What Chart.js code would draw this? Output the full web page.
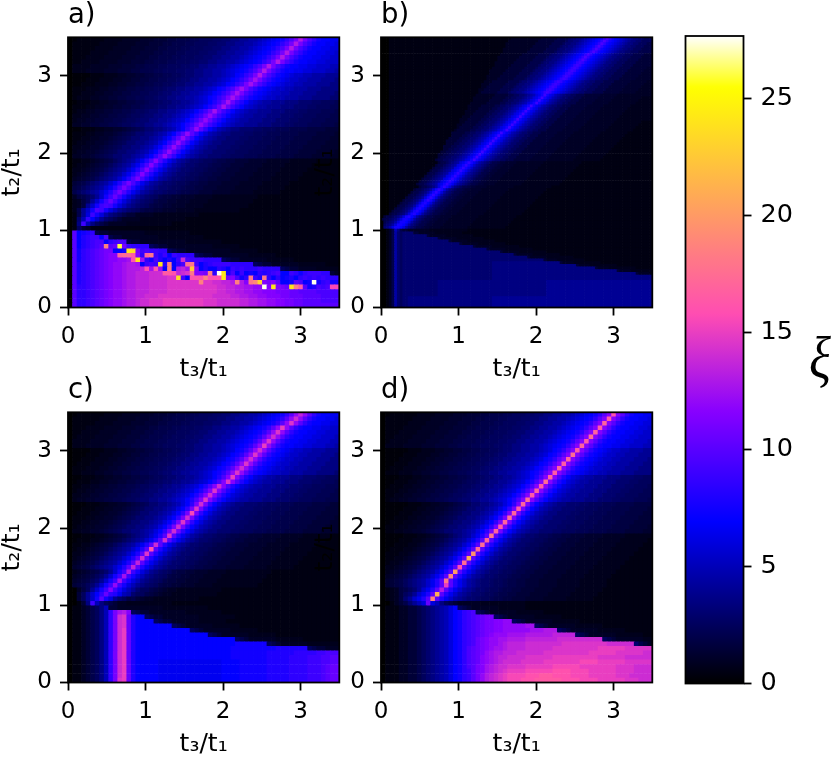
<!DOCTYPE html>
<html><head><meta charset="utf-8">
<style>html,body{margin:0;padding:0;background:#fff;width:831px;height:757px;overflow:hidden}canvas{position:absolute}</style>
<script src="https://cdn.jsdelivr.net/npm/chart.js@4"></script>
</head><body>
<canvas id="a" width="350" height="382" style="left:0;top:0"></canvas>
<canvas id="b" width="350" height="382" style="left:313px;top:0"></canvas>
<canvas id="c" width="350" height="382" style="left:0;top:375px"></canvas>
<canvas id="d" width="350" height="382" style="left:313px;top:375px"></canvas>
<canvas id="bar" width="171" height="757" style="left:660px;top:0"></canvas>
<script>
// Cell values, one string per row, top row first.
// Each character is a level of xi; "x{n}" repeats it n times. "P|left|rest" puts "rest" from column P on
// and right-aligns "left" before it.
const LEVELS="0123456789abcdefghijklmnopqrstuvwxyzABCDEFGHIJKLMNOPQRST";
const FINE_LEVELS={U:0.25,V:0.75,W:1.25,X:1.75,Y:2.25,Z:2.75};
const panelA=[
"51|U{20}1{6}V{4}2{4}W{3}3{3}X{2}4{3}Y{2}5{3}Z{2}66778899abcdefhjm|qmjhfeeddccbbbaa9988",
"50|U{20}1{6}V{4}2{4}W{3}3{3}X{2}4{3}Y{2}5{3}Z{2}66778899abcdefhjm|qmjhfeeddccbbbaa9988",
"49|U{20}1{6}V{4}2{4}W{3}3{3}X{2}4{3}Y{2}5{3}Z{2}66778899abcdefhjm|qmjhfeeddccbbbaa9988",
"48|U{20}1{6}V{4}2{4}W{3}3{3}X{2}4{3}Y{2}5{3}Z{2}66778899abcdefhjm|qmjhfeeddccbbbaa9988",
"47|U{20}1{6}V{4}2{4}W{3}3{3}X{2}4{3}Y{2}5{3}Z{2}66778899abcdefhjm|qmjhfeeddccbbbaa9988",
"46|U{20}1{6}V{4}2{4}W{3}3{3}X{2}4{3}Y{2}5{3}Z{2}66778899abcdefhjm|qmjhfeeddccbbbaa9988",
"44|U{20}1{6}V{4}2{4}W{3}3{3}X{2}4{3}Y{2}5{3}Z{2}66778899abcdefhjm|qmjhfeeddccbbbaa9988",
"43|U{20}1{6}V{4}2{4}W{3}3{3}X{2}4{3}Y{2}5{3}Z{2}66778899abcdefhjm|qmjhfeeddccbbbaa9988",
"42|U{20}1{3}V{3}22WW33XX44YY55Z66778899abcefhjm|qmjhfedcbbaa9998887777666Z",
"41|U{20}1{3}V{3}22WW33XX44YY55Z66778899abcefhjm|pmjhfedcbbaa9998887777666Z",
"40|U{20}1{3}V{3}22WW33XX44YY55Z66778899abcefhjm|pmjhfedcbbaa9998887777666Z",
"38|U{20}1{3}V{3}22WW33XX44YY55Z66778899abcefhjm|pmjhfedcbbaa9998887777666Z",
"37|U{20}1{3}V{3}22WW33XX44YY55Z66778899abcefhjm|pmjhfedcbbaa9998887777666Z",
"36|U{20}1{3}V{3}22WW33XX44YY55Z66778899abcefhjm|pmjhfedcbbaa9998887777666Z",
"35|U{20}111VV22WW33XX44Y55Z6677889abcegil|pligecba99888777666ZZ555YYY444XX",
"34|U{20}111VV22WW33XX44Y55Z6677889abcegil|pligecba99888777666ZZ555YYY444XX",
"32|U{20}111VV22WW33XX44Y55Z6677889abcegil|pligecba99888777666ZZ555YYY444XX",
"31|U{20}111VV22WW33XX44Y55Z6677889abcegil|oligecba99888777666ZZ555YYY444XX",
"30|U{20}111VV22WW33XX44Y55Z6677889abcegil|oligecba99888777666ZZ555YYY444XX",
"29|U{20}111VV22WW33XX44Y55Z6677889abcegil|oligecba99888777666ZZ555YYY444XX",
"28|U{20}111VV22WW3X4Y5667789acehk|okheca9877666ZZ555YYY4444XXXX3333WWWW2{6}",
"26|U{20}111VV22WW3X4Y5667789acehk|okheca9877666ZZ555YYY4444XXXX3333WWWW2{6}",
"25|U{20}111VV22WW3X4Y5667789acehk|okheca9877666ZZ555YYY4444XXXX3333WWWW2{6}",
"24|U{20}111VV22WW3X4Y5667789acehk|okheca9877666ZZ555YYY4444XXXX3333WWWW2{6}",
"23|U{20}111VV22WW3X4Y5667789acehk|okheca9877666ZZ555YYY4444XXXX3333WWWW2{6}",
"22|U{20}111VV22WW3X4Y5667789acehk|okheca9877666ZZ555YYY4444XXXX3333WWWW2{6}",
"21|U{20}111VV22WW3X4Y5667789acehk|okheca9877666ZZ555YYY4444XXXX3333WWWW2{6}",
"19|U{10}1{3}VV2W3X456789bdgj|njgdb98766Z55Y44XX333WWWW22222V{6}1{20}",
"18|U{10}1{3}VV2W3X456789bdgj|njgdb98766Z55Y44XX333WWWW22222V{6}1{20}",
"17|U{10}1{3}VV2W3X456789bdgj|njgdb98766Z55Y44XX333WWWW22222V{6}1{20}",
"16|U{10}1{3}VV2W3X456789bdgj|njgdb98766Z55Y44XX333WWWW22222V{6}1{20}",
"15|U{10}1{3}VV2W3X456789bdgj|mjgdb98766Z55Y44XX333WWWW22222V{6}1{20}",
"13|U{10}1{3}VV2W3X456789bdgj|mjgdb98766Z55Y44XX333WWWW22222V{6}1{25}",
"12|U{10}1{3}VV2W3X456789bdgj|mjgdb98766Z55Y44XX333WWWW22222V{6}1{25}",
"11|U{10}1{3}VV2W3X456789bdgj|mjgdb98766Z55Y44XX333WWWW22222V{6}1{25}",
"10|V2X4568bfi|lifca876Z54XX33WWW2222V{10}1{30}",
"9|1V2X58bfi|lifca876Z54XX33WWW2222V{10}1{30}",
"8|1V2X8bfi|jifca876Z54XX33WWW2222V{10}1{30}",
"6|1V48bf|jifca876Z54XX33WWW2222V{10}1{30}",
"5|148c|ifc97654332{4}V{10}1{40}",
"4|16a|heb865432{4}V{10}1{40}",
"3|17|ia75432{4}V{10}1{40}",
"2|1|5321{60}",
"0kefgh4332{8}V{10}1{30}",
"0keghiiej4332{8}V{10}1{30}",
"0keghijjehijj4332{10}V{8}1{25}",
"0keghijkBklQmihhhh54332{10}V{6}1{20}",
"0kfhijklmmeefMLmijiihh54332{10}V{6}1{20}",
"0kfhijklmnnyzzxnhyAigieihhhh54332{8}V{6}1{15}",
"0kfhijklmnnoopwMphfjgegeisjiiihhhh54332{6}V{6}1{10}",
"0kghijklmnoopqqpeijiMhBehjzAieghiiiihhhhh54332{6}V{6}1{5}",
"0kghijklmnoopqqqrwpwpeBeqrpJnegeehgeihihhhihhhh54332{4}V{6}",
"0kghijklmnoopqqrrrsssxxwrstAnnmBhTMfjeiefehghijeeihfhiiihh32",
"0kghijklmnoopqqrrrssssttLjewwwBwwwMmnjfhAigAhehefgehihihihh",
"0kghijklmnoopqqrrrsssstttttttBttssrrqBqnACKnmnkeefkjefTfhif",
"0khhijklmnoopqqrrrsssstttttttttttssrrqqppooTnMnmlMBxkfgjijv",
"0khhijklmnoopqqrrrsssstttttttttttssrrqqppoonnnmmmllkkkkjjjj",
"0khhijklmnoopqqrrsssttttttttttttssssrrqqppoonnnmmlllkkkkjjjj",
"0khhijklmnoopqqrsstttuuuuuuuuutttsssssrrqqppoonnmmllkkkkjjjj",
"0khhijklmnoopqqrsstttuuuuuuuuutttsssssrrqqppoonnmmllkkkkkkkk"
];
const panelB=[
"0{3}1{45}2{11}3{6}4{4}5667789abcdefhjhfedcba98776655",
"0{3}1{44}2{11}3{6}4{4}5667789abcdefhjhfedcba987766555",
"0{3}1{43}2{11}3{6}4{4}5667789abcdefhjhfedcba9877665554",
"0{3}1{43}2{10}3{6}4{4}5667789abcdefhjhfedcba98776655544",
"0{3}1{42}2{10}3{6}4{4}5667789abcdefhjhfedcba987766555444",
"0{3}1{42}2{9}3{6}4{4}5667789abcdefhjhfedcba9877665554444",
"0{3}1{41}2{8}3{6}4{4}5667789abcdefhjhfedcba98776655544443",
"0{3}1{40}2{8}3{6}4{4}5667789abcdefhjhfedcba987766555444433",
"0{3}1{40}2{7}3{6}4{4}5667789abcdefhjhfedcba98776655544443{3}",
"0{3}1{39}2{7}3{6}4{4}5667789abcdefhihfedcba98776655544443{4}",
"0{3}1{39}2{6}3{6}4{4}5667789abcdefhihfedcba98776655544443{5}",
"0{3}1{38}2{6}3{6}4{4}5667789abcdefhihfedcba98776655544443{6}W",
"0{3}1{37}2{6}3{6}4{4}5667789abcdefhihfedcba98776655544443{6}W{2}",
"0{3}1{37}2{5}3{6}4{4}5667789abcdefhihfedcba98776655544443{6}W{3}",
"0{3}1{36}2{5}3{6}4{4}5667789abcdefhihfedcba98776655544443{6}W{4}",
"0{3}1{36}2{4}3{6}4{4}5667789abcdefhihfedcba98776655544443{6}W{5}",
"0{3}1{35}2{3}3{6}4{4}5667789abcdefhihfedcba98776655544443{6}W{6}2",
"0{3}1{34}2{3}3{6}4{4}5667789abcdefhihfedcba98776655544443{6}W{6}2{2}",
"0{3}1{34}2{2}3{6}4{4}5667789abcdefhihfedcba98776655544443{6}W{6}2{3}",
"0{3}1{33}2{2}3{6}4{4}5667789abcdefhihfedcba98776655544443{6}W{6}2{4}",
"0{3}1{33}23{6}4{4}5667789abcdefhihfedcba98776655544443{6}W{6}2{5}",
"0{3}1{32}2{7}3{5}445566789acdfifdca98766554443{6}W{6}2{10}",
"0{3}1{31}2{7}3{5}445566789acdfifdca98766554443{6}W{6}2{10}V",
"0{3}1{31}2{6}3{5}445566789acdfifdca98766554443{6}W{6}2{10}V{2}",
"0{3}1{30}2{6}3{5}445566789acdfifdca98766554443{6}W{6}2{10}V{3}",
"0{3}1{29}2{5}3{5}445566789acdfifdca98766554443{6}W{6}2{10}V{5}",
"0{3}1{29}2{4}3{5}445566789acdfifdca98766554443{6}W{6}2{10}V{6}",
"0{3}1{28}2{4}3{5}445566789acdfifdca98766554443{6}W{6}2{10}V{7}",
"0{3}1{28}2{3}3{5}445566789acdfifdca98766554443{6}W{6}2{10}V{8}",
"0{3}1{27}2{3}3{5}445566789acdfifdca98766554443{6}W{6}2{10}V{9}",
"0{3}1{26}2{3}3{5}445566789acdfifdca98766554443{6}W{6}2{10}V{10}",
"0{3}1{26}2{2}3{5}445566789acdfifdca98766554443{6}W{6}2{10}V{10}1",
"0{3}1{25}2{2}3{5}445566789acdfifdca98766554443{6}W{6}2{10}V{10}1{2}",
"0{3}1{25}23{5}445566789acdfifdca98766554443{6}W{6}2{10}V{10}1{3}",
"0{3}1{24}23{5}445566789acdfifdca98766554443{6}W{6}2{10}V{10}1{4}",
"0{3}1{23}3{5}445566789acdfifdca98766554443{6}W{6}2{10}V{10}1{6}",
"0{3}1{23}3{4}445566789acdfifdca98766554443{6}W{6}2{10}V{10}1{7}",
"0{3}1{22}3{4}445566789acdfifdca98766554443{6}W{6}2{10}V{10}1{8}",
"0{3}1{21}3{4}445566789acdfifdca98766554443{6}W{6}2{10}V{10}1{9}",
"0{3}1{21}3{3}445566789acdfifdca98766554443{6}W{6}2{10}V{10}1{10}",
"0{3}1{20}3{3}445566789acdfifdca98766554443{6}W{6}2{10}V{10}1{11}",
"0{3}1{20}3{2}445566789acdfifdca98766554443{6}W{6}2{10}V{10}1{12}",
"0{3}1{19}3{2}445566789acdfifdca98766554443{6}W{6}2{10}V{10}1{13}",
"0{3}1{18}3{2}445566789acdfifdca98766554443{6}W{6}2{10}V{10}1{14}",
"0{3}1{18}3445566789acdfifdca98766554443{6}W{6}2{10}V{10}1{15}",
"0{3}1{17}3445566789acdfifdca98766554443{6}W{6}2{10}V{10}1{16}",
"0{3}1{18}34456789cdfhfdb9876544X33W{4}2{10}V{14}1{20}",
"0{3}1{17}34456789cdfhfdb9876544X33W{4}2{10}V{14}1{21}",
"0{3}1{16}34456789cdfhfdb9876544X33W{4}2{10}V{14}1{22}",
"0{3}1{15}34456789cdfhfdb9876544X33W{4}2{10}V{14}1{23}",
"0{3}1{14}34456789cdfhfdb9876544X33W{4}2{10}V{14}1{24}",
"0{3}1{13}34456789cdfhfdb9876544X33W{4}2{10}V{14}1{25}",
"0{3}1{12}34456789cdfhfdb9876544X33W{4}2{10}V{14}1{26}",
"0{3}1{11}34456789cdfhfdb9876544X33W{4}2{10}V{14}1{27}",
"0{3}1{10}34456789cdfhfdb9876544X33W{4}2{10}V{14}1{28}",
"0{3}1{11}344567 9cfhfc976544X33W{4}2{10}V{14}1{29}",
"0{3}1{9}344567 9cfhfc976544X33W{4}2{10}V{14}1{31}",
"0{3}1{8}344567 9cfhfc976544X33W{4}2{10}V{14}1{32}",
"0{3}1{7}344567 9cfhfc976544X33W{4}2{10}V{14}1{33}",
"0{3}1{6}344567 9cfhfc976544X33W{4}2{10}V{14}1{34}",
"0{3}1{5}344567 9cfhfc976544X33W{4}2{10}V{14}1{35}",
"0{3}1{4}344567 9cfgec976544X33W{4}2{10}V{14}1{36}",
"0{3}1{3}344567 9cfgec976544X33W{4}2{10}V{14}1{37}",
"0{3}1{2}344567 9cfgec976544X33W{4}2{10}V{14}1{38}",
"0{3}1344567 9cfgec976544X33W{4}2{10}V{14}1{39}",
"0{3}344567 9cfgec976544X33W{4}2{10}V{14}1{40}",
"0344567 9cfgec976544X33W{4}2{10}V{14}1{42}",
"344567 9cffec976544X33W{4}2{10}V{14}1{43}",
"04567 9cffec976544X33W{4}2{10}V{14}1{44}",
"0567 9cffec976544X33W{4}2{10}V{14}1{45}",
"067 9cffec976544X33W{4}2{10}V{14}1{46}",
"00124a74332{8}V{14}1{60}",
"001249656666332{6}V{10}1{70}",
"00124965666{7}32{6}V{10}1{65}",
"00124965666{11}32{6}V{10}1{60}",
"00124965666{15}32{6}V{10}1{55}",
"00124965666{19}32{6}V{10}1{50}",
"00124965666{24}32{6}V{10}1{45}",
"00124965666{29}32{6}V{10}1{40}",
"00124965666{34}32{6}V{10}1{35}",
"00124965666{39}32{6}V{10}1{30}",
"00124965666{44}32{6}V{10}1{25}",
"00124965666{50}32{4}V{10}1{20}",
"00124965666{31}7{25}32{4}V{10}1{15}",
"00124965666{31}7{31}32{4}V{10}1{10}",
"00124965666{31}7{38}32{4}V{10}1{5}",
"00124965666{31}7{46}32{4}V{10}",
"00124965666{31}7{53}32{4}V{4}",
"00124965666{31}7{60}",
"00124965666{31}7{60}",
"00124965666{11}7{40}8{50}",
"00124965666{11}7{40}8{50}",
"00124965666{11}7{40}8{50}",
"00124965666{11}7{40}8{50}",
"00124965666{11}7{40}8{50}",
"00124965666{11}7{40}8{50}",
"00124965667{31}8{60}",
"00124965667{31}8{60}",
"00124965667{31}8{60}",
"00124965667{31}8{60}"
];
const panelC=[
"51|U{20}1{6}V{4}2{4}W{3}3{3}X{2}4{3}Y{2}5{3}Z{2}66778899abcdefhko|rokhfeeddccbbbaa9988",
"50|U{20}1{6}V{4}2{4}W{3}3{3}X{2}4{3}Y{2}5{3}Z{2}66778899abcdefhko|sokhfeeddccbbbaa9988",
"49|U{20}1{6}V{4}2{4}W{3}3{3}X{2}4{3}Y{2}5{3}Z{2}66778899abcdefhko|tokhfeeddccbbbaa9988",
"47|U{20}1{6}V{4}2{4}W{3}3{3}X{2}4{3}Y{2}5{3}Z{2}66778899abcdefhko|uokhfeeddccbbbaa9988",
"46|U{20}1{6}V{4}2{4}W{3}3{3}X{2}4{3}Y{2}5{3}Z{2}66778899abcdefhko|tokhfeeddccbbbaa9988",
"45|U{20}1{6}V{4}2{4}W{3}3{3}X{2}4{3}Y{2}5{3}Z{2}66778899abcdefhko|sokhfeeddccbbbaa9988",
"44|U{20}1{6}V{4}2{4}W{3}3{3}X{2}4{3}Y{2}5{3}Z{2}66778899abcdefhko|tokhfeeddccbbbaa9988",
"43|U{20}1{6}V{4}2{4}W{3}3{3}X{2}4{3}Y{2}5{3}Z{2}66778899abcdefhko|uokhfeeddccbbbaa9988",
"42|U{20}1{3}V{3}22WW33XX44YY55Z66778899abcefhko|sokhfedcbbaa9998887777666Z",
"41|U{20}1{3}V{3}22WW33XX44YY55Z66778899abcefhko|tokhfedcbbaa9998887777666Z",
"40|U{20}1{3}V{3}22WW33XX44YY55Z66778899abcefhko|sokhfedcbbaa9998887777666Z",
"39|U{20}1{3}V{3}22WW33XX44YY55Z66778899abcefhko|tokhfedcbbaa9998887777666Z",
"38|U{20}1{3}V{3}22WW33XX44YY55Z66778899abcefhko|sokhfedcbbaa9998887777666Z",
"37|U{20}1{3}V{3}22WW33XX44YY55Z66778899abcefhko|tokhfedcbbaa9998887777666Z",
"36|U{20}111VV22WW33XX44Y55Z6677889abcegjn|unjgecba99888777666ZZ555YYY444XX",
"35|U{20}111VV22WW33XX44Y55Z6677889abcegjn|tnjgecba99888777666ZZ555YYY444XX",
"33|U{20}111VV22WW33XX44Y55Z6677889abcegjn|snjgecba99888777666ZZ555YYY444XX",
"32|U{20}111VV22WW33XX44Y55Z6677889abcegjn|tnjgecba99888777666ZZ555YYY444XX",
"31|U{20}111VV22WW33XX44Y55Z6677889abcegjn|snjgecba99888777666ZZ555YYY444XX",
"30|U{20}111VV22WW33XX44Y55Z6677889abcegjn|tnjgecba99888777666ZZ555YYY444XX",
"29|U{20}111VV22WW3X4Y5667789acehm|smheca9877666ZZ555YYY4444XXXX3333WWWW2{6}",
"28|U{20}111VV22WW3X4Y5667789acehm|tmheca9877666ZZ555YYY4444XXXX3333WWWW2{6}",
"27|U{20}111VV22WW3X4Y5667789acehm|vmheca9877666ZZ555YYY4444XXXX3333WWWW2{6}",
"26|U{20}111VV22WW3X4Y5667789acehm|smheca9877666ZZ555YYY4444XXXX3333WWWW2{6}",
"25|U{20}111VV22WW3X4Y5667789acehm|tmheca9877666ZZ555YYY4444XXXX3333WWWW2{6}",
"24|U{20}111VV22WW3X4Y5667789acehm|smheca9877666ZZ555YYY4444XXXX3333WWWW2{6}",
"23|U{20}111VV22WW3X4Y5667789acehm|smheca9877666ZZ555YYY4444XXXX3333WWWW2{6}",
"22|U{10}1{3}VV2W3X456789bdgk|tkgdb98766Z55Y44XX333WWWW22222V{6}1{20}",
"21|U{10}1{3}VV2W3X456789bdgk|skgdb98766Z55Y44XX333WWWW22222V{6}1{20}",
"19|U{10}1{3}VV2W3X456789bdgk|skgdb98766Z55Y44XX333WWWW22222V{6}1{20}",
"18|U{10}1{3}VV2W3X456789bdgk|wkgdb98766Z55Y44XX333WWWW22222V{6}1{20}",
"17|U{10}1{3}VV2W3X456789bdgk|tkgdb98766Z55Y44XX333WWWW22222V{6}1{20}",
"16|U{10}1{3}VV2W3X456789bdgk|skgdb98766Z55Y44XX333WWWW22222V{6}1{20}",
"15|U{10}1{3}VV2W3X456789bdgk|rkgdb98766Z55Y44XX333WWWW22222V{6}1{20}",
"14|U{10}1{3}VV2W3X456789bdgk|rkgdb98766Z55Y44XX333WWWW22222V{6}1{20}",
"13|U1VV2W3X4568bfi|qifca876Z54XX33WWW2222V{10}1{25}",
"12|U1VV2W3X4568bfi|pifca876Z54XX33WWW2222V{10}1{25}",
"11|U1VV2W3X4568bfi|pifca876Z54XX33WWW2222V{10}1{25}",
"10|U1VV2W3X4568bfi|oifca876Z54XX33WWW2222V{10}1{25}",
"9|2X58bfi|nifca86554X3W22V{10}1{30}",
"8|358beh|lhgda96554X3W22V{10}1{30}",
"7|358bf|kfc865X43W22V{10}1{35}",
"5|137|ia754322V{10}1{40}",
"01123457a3322 2{8}V{10}1{30}",
"01123457ahmpqn54332{8}V{8}1{30}",
"01123457ahmstlgee54332{8}V{8}1{25}",
"01123457ahmstlgeeee54332{6}V{6}1{25}",
"01123457ahmstlgee{7}5432{6}V{6}1{20}",
"01123457ahmsulgee{11}5432{6}V{6}1{15}",
"01123457ahmsulgee{15}5432{6}V{6}1{10}",
"01123457ahmsulgee{21}5432{6}V{6}1{5}",
"01123457ahmsulgee{21}f{7}5432{6}V{4}",
"01123457ahmsulgee{20}f{10}g{7}543322",
"01123457ahmsulgee{20}f{8}g{6}h{5}i{2}j{2}",
"01123457ahmsulgee{20}f{8}g{5}h{4}i{3}j{2}k",
"01123457ahmsulgee{4}d{14}e{4}f{6}g{5}h{4}i{3}j{2}k",
"01123457ahmsulgee{4}d{14}e{4}f{6}g{5}h{4}i{3}jkl",
"01123457ahmsulgee{4}d{14}e{4}f{6}g{5}h{4}i{3}jkl",
"01123457ahmsulgee{4}d{14}e{4}f{6}g{5}h{4}i{3}jkl",
"01123457ahmtulgee{4}d{14}e{4}f{6}g{5}h{4}i{3}jkl"
];
const panelD=[
"51|U{20}1{6}V{4}2{4}W{3}3{3}X{2}4{3}Y{2}5{3}Z{2}66778899abcdefhkn|wnkhfeeddccbbbaa9988",
"50|U{20}1{6}V{4}2{4}W{3}3{3}X{2}4{3}Y{2}5{3}Z{2}66778899abcdefhkn|xnkhfeeddccbbbaa9988",
"49|U{20}1{6}V{4}2{4}W{3}3{3}X{2}4{3}Y{2}5{3}Z{2}66778899abcdefhkn|ynkhfeeddccbbbaa9988",
"48|U{20}1{6}V{4}2{4}W{3}3{3}X{2}4{3}Y{2}5{3}Z{2}66778899abcdefhkn|xnkhfeeddccbbbaa9988",
"47|U{20}1{6}V{4}2{4}W{3}3{3}X{2}4{3}Y{2}5{3}Z{2}66778899abcdefhkn|ynkhfeeddccbbbaa9988",
"46|U{20}1{6}V{4}2{4}W{3}3{3}X{2}4{3}Y{2}5{3}Z{2}66778899abcdefhkn|znkhfeeddccbbbaa9988",
"45|U{20}1{6}V{4}2{4}W{3}3{3}X{2}4{3}Y{2}5{3}Z{2}66778899abcdefhkn|xnkhfeeddccbbbaa9988",
"44|U{20}1{6}V{4}2{4}W{3}3{3}X{2}4{3}Y{2}5{3}Z{2}66778899abcdefhkn|ynkhfeeddccbbbaa9988",
"43|U{20}1{3}V{3}22WW33XX44YY55Z66778899abcefhkn|xnkhfedcbbaa9998887777666Z",
"42|U{20}1{3}V{3}22WW33XX44YY55Z66778899abcefhkn|znkhfedcbbaa9998887777666Z",
"41|U{20}1{3}V{3}22WW33XX44YY55Z66778899abcefhkn|ynkhfedcbbaa9998887777666Z",
"40|U{20}1{3}V{3}22WW33XX44YY55Z66778899abcefhkn|xnkhfedcbbaa9998887777666Z",
"39|U{20}1{3}V{3}22WW33XX44YY55Z66778899abcefhkn|ynkhfedcbbaa9998887777666Z",
"38|U{20}1{3}V{3}22WW33XX44YY55Z66778899abcefhkn|xnkhfedcbbaa9998887777666Z",
"37|U{20}111VV22WW33XX44Y55Z6677889abcegjn|ynjgecba99888777666ZZ555YYY444XX",
"36|U{20}111VV22WW33XX44Y55Z6677889abcegjn|znjgecba99888777666ZZ555YYY444XX",
"35|U{20}111VV22WW33XX44Y55Z6677889abcegjn|xnjgecba99888777666ZZ555YYY444XX",
"34|U{20}111VV22WW33XX44Y55Z6677889abcegjn|ynjgecba99888777666ZZ555YYY444XX",
"33|U{20}111VV22WW33XX44Y55Z6677889abcegjn|xnjgecba99888777666ZZ555YYY444XX",
"32|U{20}111VV22WW33XX44Y55Z6677889abcegjn|znjgecba99888777666ZZ555YYY444XX",
"31|U{20}111VV22WW3X4Y5667789acehm|ymheca9877666ZZ555YYY4444XXXX3333WWWW2{6}",
"30|U{20}111VV22WW3X4Y5667789acehm|xmheca9877666ZZ555YYY4444XXXX3333WWWW2{6}",
"29|U{20}111VV22WW3X4Y5667789acehm|ymheca9877666ZZ555YYY4444XXXX3333WWWW2{6}",
"28|U{20}111VV22WW3X4Y5667789acehm|zmheca9877666ZZ555YYY4444XXXX3333WWWW2{6}",
"27|U{20}111VV22WW3X4Y5667789acehm|ymheca9877666ZZ555YYY4444XXXX3333WWWW2{6}",
"26|U{20}111VV22WW3X4Y5667789acehm|xmheca9877666ZZ555YYY4444XXXX3333WWWW2{6}",
"25|U{20}111VV22WW3X4Y5667789acehm|ymheca9877666ZZ555YYY4444XXXX3333WWWW2{6}",
"24|U{10}1{3}VV2W3X456789bdgk|Akgdb98766Z55Y44XX333WWWW22222V{6}1{20}",
"23|U{10}1{3}VV2W3X456789bdgk|ykgdb98766Z55Y44XX333WWWW22222V{6}1{20}",
"22|U{10}1{3}VV2W3X456789bdgk|zkgdb98766Z55Y44XX333WWWW22222V{6}1{20}",
"21|U{10}1{3}VV2W3X456789bdgk|zkgdb98766Z55Y44XX333WWWW22222V{6}1{20}",
"20|U{10}1{3}VV2W3X456789bdgk|Dkgdb98766Z55Y44XX333WWWW22222V{6}1{20}",
"19|U{10}1{3}VV2W3X456789bdgk|Gkgdb98766Z55Y44XX333WWWW22222V{6}1{20}",
"18|U{10}1{3}VV2W3X456789bdgk|zkgdb98766Z55Y44XX333WWWW22222V{6}1{20}",
"17|U{10}1{3}VV2W3X456789bdgk|wkgdb98766Z55Y44XX333WWWW22222V{6}1{20}",
"16|U1VV2W3X456789bdgk|Ekgdb98766Z55Y44XX333WWWW22222V{6}1{25}",
"15|U1VV2W3X456789bdgk|Ckgdb98766Z55Y44XX333WWWW22222V{6}1{25}",
"14|U1VV2W3X456789bdgk|Akgdb98766Z55Y44XX333WWWW22222V{6}1{25}",
"14|U1VV2W3X456789bdgk|ukgdb98766Z55Y44XX333WWWW22222V{6}1{25}",
"13|1V2X4568bdgk|qkgdb98766Z55Y44XX333WWWW22222V{6}1{25}",
"12|1V2X568bdgk|Gkgdb98766Z55Y44XX333WWWW22222V{6}1{25}",
"11|1V2X68bdgk|Bkgdb98766Z55Y44XX333WWWW22222V{6}1{25}",
"10|123468ac|lca75432{5}V{10}1{35}",
"0111223345 6789ace5432{6}V{6}1{30}",
"0111223345 6789acefhij5432{6}V{6}1{25}",
"0111223345 6789acefhijklmm5432{6}V{6}1{25}",
"0111223345 6789acefhijklmmnnoo5432{6}V{6}1{20}",
"0111223345 6789acefhijklmmnnoo{4}p{2}5432{6}V{6}1{15}",
"0111223345 6789acefhijklmmnnoo{5}p{3}q{3}5432{6}V{6}1{10}",
"0111223345 6789acefhijklmnooop{4}q{6}r{5}5432{6}V{6}1{5}",
"0111223345 6789acefhijlmnooppq{4}r{7}s{10}5432{6}V{4}",
"0111223345 6789acefhijlmnoopqr{4}s{8}t{10}s{6}6432",
"0111223345 6789acefhjklmnoppqr{4}s{6}t{10}u{6}t{6}s{6}",
"0111223345 6789acefhjklmopqqrr{2}s{6}t{10}u{6}t{6}s{2}",
"0111223345 6789acefhjklnopqrrs{4}t{6}u{10}t{6}s{6}",
"0111223345 6789acefhjklnopqrss{3}t{5}u{8}v{4}u{6}t{6}",
"0111223345 6789acefhjkmnpqrsst{4}u{6}v{6}u{8}t{4}s{4}",
"0111223345 6789acefhikmnpqrstu{4}v{6}w{4}v{4}u{6}t{4}s{4}",
"0111223345 6789acefhikmoqrstuv{4}w{3}x{3}w{4}v{4}u{6}t{3}s{5}",
"0111223345 6789acefhikmoqrstuv{3}w{3}x{6}w{4}v{4}u{6}t{3}s{3}"
];
const xTickStep=1, yTickStep=1, axisMax=3.5, barMax=27.66, barTickStep=5;
const xLabel="t\u2083/t\u2081", yLabel="t\u2082/t\u2081", barLabel="\u03BE";

const expand=s=>s.replace(/\s/g,"").replace(/(.)\{(\d+)\}/g,(m,c,n)=>c.repeat(+n));
function expandRow(s,n){
  let row;
  if(s.includes("|")){
    const [p,l,r]=s.split("|"),P=+p;
    row=(expand(l).slice(-P).padStart(P,"0")+expand(r));
    row="0"+row.slice(1);
  }else row=expand(s);
  row=row.slice(0,n);
  return row.padEnd(n,row[row.length-1]);
}
const levelValue=ch=>ch in FINE_LEVELS?FINE_LEVELS[ch]:Math.max(0,LEVELS.indexOf(ch))*0.5;
function gnuplot2(v){
  const x=Math.min(1,Math.max(0,v/barMax)), cl=t=>Math.round(255*Math.min(1,Math.max(0,t)));
  const b=x<0.25?4*x:x<0.42?1:x<0.92?-2*x+1.84:x/0.08-11.5;
  return `rgb(${cl(x/0.32-0.78125)},${cl(2*x-0.84)},${cl(b)})`;
}
const FONT='"DejaVu Sans"';
Chart.defaults.font.family=FONT;
Chart.defaults.font.size=23;
Chart.defaults.color="#000";
const axisBase=()=>({
  border:{display:false},
  grid:{drawOnChartArea:false,drawTicks:true,tickLength:8,tickWidth:1.8,tickColor:"#000"},
});
const framePlugin={id:"frame",afterDraw(ch,_,o){
  const {left,top,right,bottom}=ch.chartArea,c=ch.ctx;
  c.save();c.strokeStyle="#000";c.lineWidth=1.8;c.strokeRect(left,top,right-left,bottom-top);
  c.fillStyle="#000";
  if(o.letter){c.font=`27.5px ${FONT}`;c.textAlign="left";c.textBaseline="alphabetic";c.fillText(o.letter,left,top-14.5);}
  if(o.side){c.translate(160,362);c.scale(0.85,1);c.font='italic 60px "Liberation Serif"';c.textAlign="center";c.textBaseline="middle";c.fillText(o.side,0,0);}
  c.restore();
}};
function panel(id,rows,letter){
  const n=rows.length,step=axisMax/n,pts=[],cols=[];
  rows.forEach((s,r)=>{
    const row=expandRow(s,n);
    for(let i=0;i<n;i++){
      pts.push({x:(i+0.5)*step,y:axisMax-(r+0.5)*step});cols.push(gnuplot2(levelValue(row[i])));
    }
  });
  new Chart(document.getElementById(id),{
    type:"scatter",plugins:[framePlugin],
    data:{datasets:[{data:pts,showLine:false,pointStyle:"rect",pointBorderWidth:0,pointBackgroundColor:cols,
      pointRadius:c=>{const s=c.chart.scales.x;return (s.getPixelForValue(step)-s.getPixelForValue(0)+0.7)/Math.SQRT2;}}]},
    options:{responsive:false,animation:false,events:[],devicePixelRatio:1,
      layout:{padding:{left:0,top:37.3,right:10.7,bottom:0}},
      plugins:{legend:{display:false},tooltip:{enabled:false},frame:{letter}},
      scales:{
        x:{...axisBase(),type:"linear",min:0,max:axisMax,afterFit:s=>{s.height=74.5;},
          ticks:{stepSize:xTickStep,includeBounds:false,maxRotation:0,padding:8},
          title:{display:true,text:xLabel,padding:0,font:{size:25,lineHeight:1}}},
        y:{...axisBase(),type:"linear",min:0,max:axisMax,afterFit:s=>{s.width=68;},
          ticks:{stepSize:yTickStep,includeBounds:false,padding:8},
          title:{display:true,text:yLabel,padding:0,font:{size:25,lineHeight:1}}}
      }}
  });
}
panel("a",panelA,"a)");
panel("b",panelB,"b)");
panel("c",panelC,"c)");
panel("d",panelD,"d)");
new Chart(document.getElementById("bar"),{
  type:"bar",plugins:[framePlugin],
  data:{labels:[barLabel],datasets:[{data:[[0,barMax]],barPercentage:1,categoryPercentage:1,
    backgroundColor:c=>{
      const a=c.chart.chartArea;if(!a)return "#000";
      const g=c.chart.ctx.createLinearGradient(0,a.bottom,0,a.top);
      for(let k=0;k<=128;k++)g.addColorStop(k/128,gnuplot2(barMax*k/128));
      return g;}}]},
  options:{responsive:false,animation:false,events:[],devicePixelRatio:1,
    layout:{padding:{left:25.5,top:36,right:0,bottom:73.5}},
    plugins:{legend:{display:false},tooltip:{enabled:false},frame:{side:barLabel}},
    scales:{
      x:{display:false},
      y:{...axisBase(),position:"right",min:0,max:barMax,afterFit:s=>{s.width=87.5;},
        ticks:{stepSize:barTickStep,includeBounds:false,padding:9,font:{size:25.5}}}
    }}
});
</script>
</body></html>
